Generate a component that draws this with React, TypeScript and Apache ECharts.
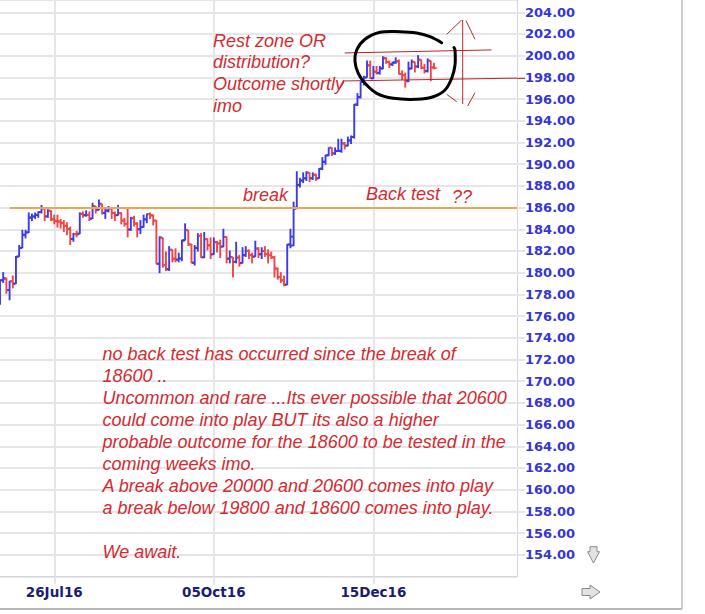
import React, { useEffect, useRef } from 'react';
import * as echarts from 'echarts';

// ---- calendar -------------------------------------------------------------
const FIRST_SESSION = '2016-06-30';
const AXIS_SESSIONS = 163; // trading days shown on the axis, incl. empty future space
const HOLIDAYS = ['2016-07-04', '2016-09-05', '2016-11-24', '2016-12-26', '2017-01-02', '2017-01-16', '2017-02-20'];
const LABELLED_DATES = ['26Jul16', '05Oct16', '15Dec16'];
const MONTH_NAMES = ['Jan', 'Feb', 'Mar', 'Apr', 'May', 'Jun', 'Jul', 'Aug', 'Sep', 'Oct', 'Nov', 'Dec'];

// ---- price axis (index in hundreds) ---------------------------------------
const PRICE_MIN = 152;
const PRICE_MAX = 205.13; // top edge of the plot
const PRICE_STEP = 2;

// ---- daily bars: [open, high, low, close] ---------------------------------
const JUN_2016 = [[177.2, 179.3, 177.1, 179.3]];
const JUL_2016 = [
  [179.3, 180.0, 179.1, 179.5], [179.4, 179.5, 178.1, 178.4], [178.4, 179.2, 177.5, 179.2],
  [179.2, 179.7, 178.6, 178.95], [179.0, 181.5, 179.0, 181.46], [181.5, 182.5, 181.5, 182.26],
  [182.3, 183.9, 182.3, 183.47], [183.5, 183.9, 183.2, 183.72], [183.7, 185.5, 183.7, 185.06],
  [185.1, 185.4, 184.8, 185.16], [185.2, 185.5, 185.0, 185.33], [185.3, 185.6, 185.1, 185.59],
  [185.6, 186.2, 185.5, 185.95], [185.9, 186.0, 184.8, 185.17], [185.2, 185.8, 185.1, 185.7],
  [185.7, 185.7, 184.8, 184.93], [184.9, 185.3, 184.5, 184.73], [184.8, 185.3, 184.2, 184.72],
  [184.7, 184.9, 184.1, 184.56], [184.6, 184.8, 183.8, 184.32],
];
const AUG_2016 = [
  [184.3, 184.6, 183.5, 184.04], [184.0, 184.2, 182.6, 183.13], [183.1, 183.6, 182.9, 183.55],
  [183.55, 183.8, 183.3, 183.52], [183.6, 185.5, 183.6, 185.43], [185.4, 185.6, 185.1, 185.29],
  [185.3, 185.7, 185.2, 185.33], [185.3, 185.6, 184.8, 184.95], [185.0, 186.4, 185.0, 186.13],
  [186.1, 186.1, 185.5, 185.76], [185.8, 186.7, 185.8, 186.36], [186.3, 186.3, 185.4, 185.52],
  [185.5, 185.9, 185.0, 185.73], [185.7, 186.1, 185.6, 185.97], [185.9, 186.0, 185.0, 185.52],
  [185.5, 185.6, 184.8, 185.29], [185.3, 186.2, 185.3, 185.47], [185.5, 185.5, 184.5, 184.81],
  [184.8, 185.0, 184.3, 184.48], [184.5, 185.9, 183.3, 183.95], [184.0, 185.1, 183.9, 185.02],
  [185.0, 185.2, 184.3, 184.54], [184.5, 184.6, 183.3, 184.0],
];
const SEP_2016 = [
  [184.0, 184.8, 183.6, 184.19], [184.2, 185.3, 184.2, 184.92], [184.9, 185.4, 184.6, 185.38],
  [185.4, 185.5, 185.0, 185.26], [185.3, 185.3, 184.4, 184.79], [184.8, 184.8, 180.8, 180.85],
  [180.8, 183.3, 180.0, 183.25], [183.2, 183.2, 180.5, 180.66], [180.7, 181.9, 180.2, 180.34],
  [180.3, 182.4, 180.2, 182.12], [182.1, 182.1, 181.0, 181.24], [181.3, 182.2, 181.0, 181.2],
  [181.2, 181.8, 181.0, 181.3], [181.3, 183.0, 181.1, 182.94], [183.0, 184.5, 183.0, 183.92],
  [183.9, 183.9, 182.5, 182.61], [182.6, 182.6, 180.9, 180.94], [180.9, 182.5, 180.7, 182.28],
  [182.3, 183.6, 182.0, 183.39], [183.4, 183.6, 181.4, 181.43], [181.4, 183.7, 181.4, 183.08],
];
const OCT_2016 = [
  [183.1, 183.1, 182.1, 182.53], [182.5, 183.2, 181.3, 181.68], [181.7, 183.2, 181.7, 182.81],
  [182.8, 182.9, 181.9, 182.68], [182.7, 183.0, 181.4, 182.4], [182.4, 184.0, 182.4, 183.29],
  [183.3, 183.3, 180.9, 181.28], [181.3, 182.0, 180.9, 181.44], [181.4, 181.4, 179.6, 180.98],
  [181.0, 182.8, 180.9, 181.38], [181.4, 181.6, 180.6, 180.86], [180.9, 182.3, 180.9, 181.62],
  [181.6, 182.4, 181.5, 182.02], [182.0, 182.1, 181.3, 181.62], [181.6, 181.8, 180.9, 181.45],
  [181.5, 182.9, 181.5, 182.23], [182.2, 182.3, 181.4, 181.69], [181.7, 182.3, 181.3, 181.99],
  [182.0, 182.4, 181.5, 181.7], [181.7, 182.1, 180.9, 181.61], [181.6, 181.9, 181.3, 181.42],
];
const NOV_2016 = [
  [181.4, 181.5, 179.6, 180.37], [180.4, 180.4, 179.4, 179.59], [179.6, 180.0, 179.1, 179.3],
  [179.3, 179.7, 178.8, 178.88], [178.9, 182.6, 178.9, 182.59], [182.6, 184.0, 182.3, 183.32],
  [182.5, 186.5, 182.5, 185.89], [186.0, 189.3, 185.9, 188.07], [188.1, 188.7, 187.9, 188.48],
  [188.5, 189.2, 188.3, 188.69], [188.7, 189.3, 188.5, 189.23], [189.2, 189.2, 188.4, 188.68],
  [188.7, 189.2, 188.6, 189.03], [189.0, 189.1, 188.5, 188.68], [188.7, 189.6, 188.7, 189.56],
  [189.6, 190.6, 189.5, 190.24], [190.2, 190.8, 190.0, 190.83], [190.8, 191.5, 190.8, 191.52],
  [191.5, 191.5, 190.8, 190.98], [191.0, 191.5, 190.9, 191.22], [191.2, 192.3, 191.2, 191.24],
];
const DEC_2016 = [
  [191.2, 192.3, 191.1, 191.92], [191.9, 192.0, 191.4, 191.71], [191.7, 192.5, 191.7, 192.17],
  [192.2, 192.6, 191.9, 192.52], [192.5, 195.5, 192.4, 195.49], [195.5, 196.5, 195.4, 196.15],
  [196.2, 197.6, 196.1, 197.57], [197.6, 198.1, 197.3, 197.97], [198.0, 199.5, 198.0, 199.11],
  [199.1, 199.5, 197.9, 197.93], [197.9, 199.0, 197.9, 198.53], [198.5, 199.0, 198.3, 198.43],
  [198.4, 199.0, 198.3, 198.84], [198.8, 199.9, 198.8, 199.75], [199.8, 199.8, 199.3, 199.42],
  [199.4, 199.5, 198.9, 199.19], [199.2, 199.4, 199.1, 199.34], [199.4, 199.8, 199.3, 199.46],
  [199.5, 199.6, 198.3, 198.33], [198.3, 198.6, 197.8, 198.19], [198.2, 198.4, 197.1, 197.63],
];
const JAN_2017 = [
  [197.7, 199.4, 197.6, 198.82], [198.8, 199.6, 198.8, 199.43], [199.4, 199.4, 198.5, 199.0],
  [199.0, 200.0, 198.9, 199.64], [199.6, 199.6, 198.8, 198.88], [198.9, 199.2, 198.4, 198.56],
  [198.6, 199.7, 198.5, 199.54], [199.5, 199.5, 197.7, 198.92], [198.9, 199.3, 198.8, 198.86],
];

// ---- levels drawn across the chart ----------------------------------------
const BREAK_LEVEL = 186; // 18600
const RANGE_TOP = { from: [108, 200.25], to: [154, 200.53] };
const RANGE_BOTTOM = { from: [108, 197.67], to: [162, 197.93] };

// ---- commentary -----------------------------------------------------------
const NOTE_TOP = ['Rest zone OR', 'distribution?', 'Outcome shortly', 'imo'];
const NOTE_BODY = [
  'no back test has occurred since the break of',
  '18600 ..',
  'Uncommon and rare ...Its ever possible that 20600',
  'could come into play BUT its also a higher',
  'probable outcome for the 18600 to be tested in the',
  'coming weeks imo.',
  'A break above 20000 and 20600 comes into play',
  'a break below 19800 and 18600 comes into play.',
  '',
  'We await.',
];

const UP = '#3c3ce6';
const DOWN = '#f04646';
const NOTE_RED = '#d42a30';
const PEN_RED = '#b82828';
const GRID = '#e6e6ea';

function buildSessions(): string[] {
  const out: string[] = [];
  const d = new Date(FIRST_SESSION + 'T00:00:00Z');
  while (out.length < AXIS_SESSIONS) {
    const dow = d.getUTCDay();
    const iso = d.toISOString().slice(0, 10);
    if (dow !== 0 && dow !== 6 && !HOLIDAYS.includes(iso)) {
      out.push(
        String(d.getUTCDate()).padStart(2, '0') +
          MONTH_NAMES[d.getUTCMonth()] +
          String(d.getUTCFullYear()).slice(2)
      );
    }
    d.setUTCDate(d.getUTCDate() + 1);
  }
  return out;
}

const noteText = (text: string, x: number, y: number) => ({
  type: 'text',
  x,
  y,
  z: 100,
  style: {
    text,
    fill: NOTE_RED,
    fontSize: 18,
    fontStyle: 'italic',
    fontFamily: '"Liberation Sans", Arial, sans-serif',
    verticalAlign: 'middle',
    textVerticalAlign: 'middle',
  },
});

const pen = (x1: number, y1: number, x2: number, y2: number) => ({
  type: 'line',
  z: 100,
  shape: { x1, y1, x2, y2 },
  style: { stroke: PEN_RED, lineWidth: 1 },
});

export default function App() {
  const ref = useRef<HTMLDivElement>(null);

  useEffect(() => {
    if (!ref.current) return;
    const chart = echarts.init(ref.current, undefined, { renderer: 'svg' });
    const sessions = buildSessions();
    const bars = [...JUN_2016, ...JUL_2016, ...AUG_2016, ...SEP_2016, ...OCT_2016, ...NOV_2016, ...DEC_2016, ...JAN_2017].map(
      (b, i) => [i, b[0], b[1], b[2], b[3]]
    );
    const showDate = (_i: number, v: string) => LABELLED_DATES.includes(v);
    const pxPerUnit = 10.85;

    const graphics: any[] = [];
    NOTE_TOP.forEach((t, i) => graphics.push(noteText(t, 213, 40.5 + i * 21.8)));
    NOTE_BODY.forEach((t, i) => t && graphics.push(noteText(t, 102.5, 354 + i * 22)));
    graphics.push(noteText('break', 243, 195));
    graphics.push(noteText('Back test', 366, 194));
    graphics.push(noteText('??', 452, 197));

    // hand-drawn ring round the consolidation
    graphics.push({
      type: 'polyline',
      z: 100,
      shape: {
        smooth: 0.35,
        points: [
          [441.7, 42.7], [430, 36.7], [416.7, 33], [400, 31.7], [380, 32.3], [365, 39.3], [356.7, 50],
          [355, 61.7], [358.3, 73.3], [365, 83.3], [376.7, 93.3], [393.3, 98.3], [416.7, 99.3],
          [433.3, 96.7], [445, 90], [451.7, 78.3], [455, 65], [455, 50], [454, 47.5],
        ],
      },
      style: { stroke: '#000', lineWidth: 3, fill: null, lineJoin: 'round', lineCap: 'round' },
    });
    // double-headed arrow and pen strokes
    graphics.push(pen(462.7, 20, 462.7, 104));
    graphics.push(pen(446.7, 34.3, 461.7, 20));
    graphics.push(pen(466, 20.7, 475, 39.3));
    graphics.push(pen(446.7, 94.3, 456.7, 101.7));
    graphics.push(pen(475, 92.7, 467.7, 106));
    graphics.push(pen(340, 88.3, 344, 81.7));
    graphics.push(pen(517, 78.4, 525, 78.4));

    // scroll arrows and frame
    graphics.push({
      type: 'polygon',
      z: 100,
      shape: { points: [[590, 546.7], [597, 546.7], [597, 551.7], [599.5, 551.7], [593.5, 563], [587.5, 551.7], [590, 551.7]] },
      style: { fill: '#e2e2e2', stroke: '#8a8a8a', lineWidth: 1 },
    });
    graphics.push({
      type: 'polygon',
      z: 100,
      shape: { points: [[582, 588.5], [590, 588.5], [590, 585], [600, 592], [590, 599], [590, 595.5], [582, 595.5]] },
      style: { fill: '#e2e2e2', stroke: '#8a8a8a', lineWidth: 1 },
    });
    graphics.push({ type: 'line', z: 100, shape: { x1: 682, y1: 0, x2: 682, y2: 609 }, style: { stroke: '#cfcfcf', lineWidth: 2 } });
    graphics.push({ type: 'line', z: 100, shape: { x1: 0, y1: 609, x2: 682, y2: 609 }, style: { stroke: '#b8b8b8', lineWidth: 2 } });

    const axisFont = {
      fontWeight: 'bold',
      fontFamily: '"DejaVu Sans", Verdana, sans-serif',
    };

    chart.setOption({
      animation: false,
      backgroundColor: '#ffffff',
      grid: {
        left: 0,
        top: 0,
        width: 517,
        height: (PRICE_MAX - PRICE_MIN) * pxPerUnit,
        containLabel: false,
      },
      xAxis: {
        type: 'category',
        data: sessions,
        boundaryGap: false,
        axisLine: { show: true, lineStyle: { color: '#d6d6da', width: 1 } },
        axisTick: { show: true, length: 8, interval: showDate, lineStyle: { color: GRID, width: 2 } },
        axisLabel: { interval: showDate, margin: 9, color: '#1c1c72', fontSize: 13.5, ...axisFont },
        splitLine: { show: true, interval: showDate, lineStyle: { color: GRID, width: 2 } },
      },
      yAxis: {
        type: 'value',
        position: 'right',
        min: PRICE_MIN,
        max: PRICE_MAX,
        interval: PRICE_STEP,
        axisLine: { show: true, lineStyle: { color: '#d6d6da', width: 1 } },
        axisTick: { show: true, length: 8, lineStyle: { color: GRID, width: 2 } },
        axisLabel: {
          margin: 8,
          showMinLabel: false,
          showMaxLabel: false,
          formatter: (v: number) => v.toFixed(2),
          color: '#3535d8',
          fontSize: 13,
          ...axisFont,
        },
        splitLine: { show: true, lineStyle: { color: GRID, width: 2 } },
      },
      series: [
        {
          type: 'custom',
          data: bars,
          encode: { x: 0, y: [1, 2, 3, 4] },
          renderItem: (_params: any, api: any) => {
            const i = api.value(0);
            const o = api.value(1);
            const h = api.value(2);
            const l = api.value(3);
            const c = api.value(4);
            const pH = api.coord([i, h]);
            const pL = api.coord([i, l]);
            const pO = api.coord([i, o]);
            const pC = api.coord([i, c]);
            const style = { stroke: c >= o ? UP : DOWN, lineWidth: 1.9 };
            const tick = 2.6;
            return {
              type: 'group',
              children: [
                { type: 'line', shape: { x1: pH[0], y1: pH[1] - 0.5, x2: pL[0], y2: pL[1] + 0.5 }, style },
                { type: 'line', shape: { x1: pO[0] - tick, y1: pO[1], x2: pO[0], y2: pO[1] }, style },
                { type: 'line', shape: { x1: pC[0], y1: pC[1], x2: pC[0] + tick, y2: pC[1] }, style },
              ],
            };
          },
          markLine: {
            silent: true,
            symbol: 'none',
            label: { show: false },
            data: [
              [
                { coord: [3, BREAK_LEVEL], lineStyle: { color: '#f2a35a', width: 2, type: 'solid' } },
                { coord: [AXIS_SESSIONS - 1, BREAK_LEVEL] },
              ],
              [
                { coord: RANGE_TOP.from, lineStyle: { color: PEN_RED, width: 1, type: 'solid' } },
                { coord: RANGE_TOP.to },
              ],
              [
                { coord: RANGE_BOTTOM.from, lineStyle: { color: PEN_RED, width: 1, type: 'solid' } },
                { coord: RANGE_BOTTOM.to },
              ],
            ],
          },
        },
      ],
      graphic: graphics,
    });

    return () => chart.dispose();
  }, []);

  return (
    <div
      ref={ref}
      style={{ position: 'absolute', left: 0, top: 0, width: 705, height: 614, background: '#fff' }}
    />
  );
}
